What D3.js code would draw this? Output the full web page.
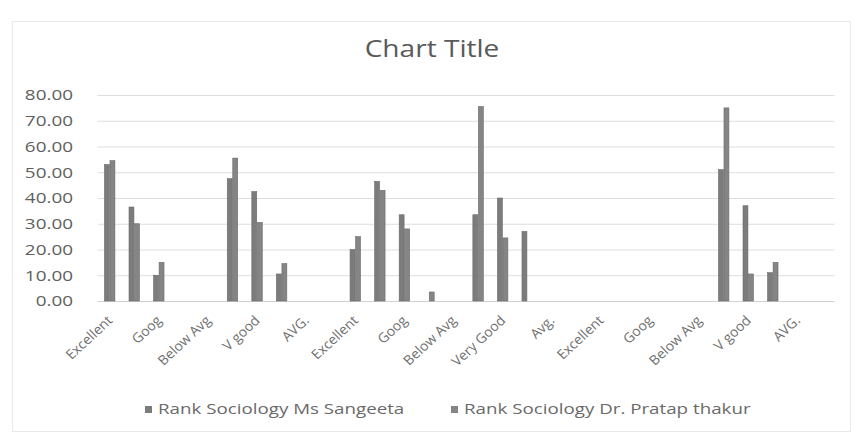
<!DOCTYPE html>
<html>
<head>
<meta charset="utf-8">
<script src="https://cdn.jsdelivr.net/npm/d3@7"></script>
<style>
  html, body { margin: 0; padding: 0; background: #ffffff; }
  svg { display: block; }
  text { font-family: "Open Sans", "Noto Sans", sans-serif; }
</style>
</head>
<body>
<svg id="chart" width="863" height="443"></svg>
<script>
// ---- data ----
const categories = [
  "Excellent","V good","Goog","AVG.","Below Avg",
  "Excellent","V good","Goog","AVG.","Below Avg",
  "Excellent","Very Good","Goog","Avg.","Below Avg",
  "Excellent","Very Good","Goog","Avg.","Below Avg",
  "Excellent","V good","Goog","AVG.","Below Avg",
  "Excellent","V good","Goog","AVG.","Below Avg"
];
const seriesNames = ["Rank Sociology Ms Sangeeta", "Rank Sociology Dr. Pratap thakur"];
const sangeeta = [53, 36.5, 10, 0, 0, 47.5, 42.5, 10.5, 0, 0,
                  20, 46.5, 33.5, 0, 0, 33.5, 40, 27, 0, 0,
                  0, 0, 0, 0, 0, 51, 37, 11, 0, 0];
const pratap   = [54.5, 30, 15, 0, 0, 55.5, 30.5, 14.5, 0, 0,
                  25, 43, 28, 3.5, 0, 75.5, 24.5, 0, 0, 0,
                  0, 0, 0, 0, 0, 75, 10.5, 15, 0, 0];
const yTicks = [0, 10, 20, 30, 40, 50, 60, 70, 80];
const chartTitle = "Chart Title";

// ---- layout ----
const svg = d3.select("#chart");
const plot = { left: 97.7, right: 834.5, top: 95, bottom: 301 };
const barColors = ["#7c7c7c", "#858585"];

// faint outer frame
svg.append("rect")
  .attr("x", 12.5).attr("y", 21.5).attr("width", 838).attr("height", 410)
  .attr("fill", "none").attr("stroke", "#e9e9e9").attr("stroke-width", 1);

const idx = d3.range(categories.length);
const x = d3.scaleBand().domain(idx).range([plot.left, plot.right]).padding(0);
const bw = x.bandwidth();
const groupW = bw * 0.45;
const x1 = d3.scaleBand().domain([0, 1]).range([(bw - groupW) / 2, (bw + groupW) / 2]).padding(0);
const y = d3.scaleLinear().domain([0, 80]).range([plot.bottom, plot.top]);

// gridlines
svg.append("g").selectAll("line").data(yTicks).join("line")
  .attr("x1", plot.left).attr("x2", plot.right)
  .attr("y1", d => y(d) + 0.5).attr("y2", d => y(d) + 0.5)
  .attr("stroke", d => d === 0 ? "#d0d0d0" : "#dedede").attr("stroke-width", 1);

// y axis labels
const yAxis = d3.axisLeft(y).tickValues(yTicks).tickFormat(d3.format(".2f")).tickSize(0).tickPadding(0);
const yg = svg.append("g").attr("transform", `translate(${73},0)`).call(yAxis);
yg.select(".domain").remove();
yg.selectAll("text")
  .attr("fill", "#5f5f5f").attr("font-size", "15px")
  .attr("transform", `scale(${1.26},1)`)
  .style("font-family", "'Open Sans', sans-serif");

// bars
const series = [sangeeta, pratap];
series.forEach((vals, s) => {
  svg.append("g").selectAll("rect").data(idx.filter(i => vals[i] > 0)).join("rect")
    .attr("x", i => x(i) + x1(s))
    .attr("width", x1.bandwidth() - 0.6)
    .attr("y", i => y(vals[i]))
    .attr("height", i => y(0) - y(vals[i]))
    .attr("fill", barColors[s])
    .attr("stroke", "#6a6a6a").attr("stroke-width", 0.6);
});

// x axis labels (every other category, rotated -45)
const xAxis = d3.axisBottom(x)
  .tickValues(idx.filter(i => i % 2 === 0))
  .tickFormat(i => categories[i]).tickSize(0).tickPadding(0);
const xg = svg.append("g").attr("transform", `translate(0,${plot.bottom + 17})`).call(xAxis);
xg.select(".domain").remove();
xg.selectAll("text")
  .attr("fill", "#707070").attr("font-size", "13.5px")
  .attr("text-anchor", "end")
  .attr("x", 0).attr("y", 0)
  .attr("dy", "0.35em")
  .attr("transform", `scale(${1.04},1) rotate(-44)`)
  .style("font-family", "'Open Sans', sans-serif");

// title
svg.append("g").attr("transform", "translate(432,57)")
  .append("text")
  .attr("text-anchor", "middle")
  .attr("transform", `scale(${1.17},1)`)
  .attr("fill", "#5a5a5a").attr("font-size", "24px")
  .text(chartTitle);

// legend
const legendX = [145, 451];
const legend = svg.append("g");
seriesNames.forEach((name, s) => {
  legend.append("rect")
    .attr("x", legendX[s]).attr("y", 406).attr("width", 7).attr("height", 7)
    .attr("fill", barColors[s]);
  legend.append("g").attr("transform", `translate(${legendX[s] + 13},414)`)
    .append("text")
    .attr("transform", `scale(${1.25},1)`)
    .attr("fill", "#6a6a6a").attr("font-size", "15px")
    .text(name);
});
</script>
</body>
</html>
